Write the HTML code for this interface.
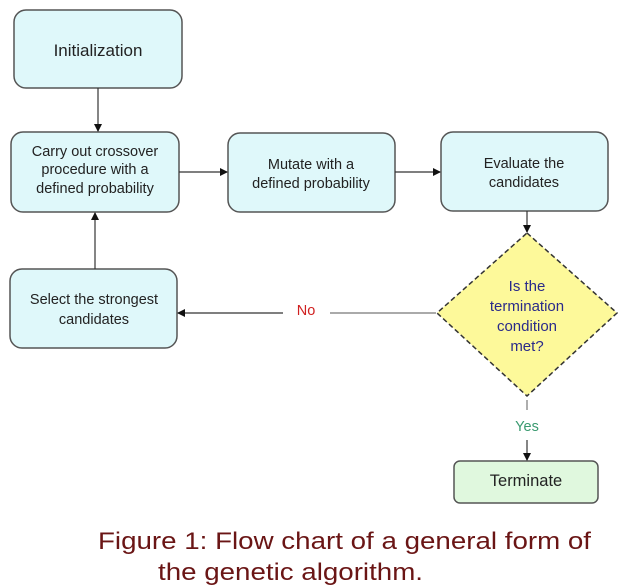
<!DOCTYPE html>
<html><head><style>html,body{margin:0;padding:0;background:#fff}svg{display:block}</style></head><body>
<svg width="628" height="586" viewBox="0 0 628 586" xmlns="http://www.w3.org/2000/svg" font-family="Liberation Sans, sans-serif">
<defs><marker id="a" markerWidth="8" markerHeight="8" refX="7" refY="4" orient="auto" markerUnits="userSpaceOnUse"><path d="M0,0 L8,4 L0,8z" fill="#111"/></marker></defs>
<g fill="#dff8fa" stroke="#555" stroke-width="1.5">
<rect x="14" y="10" width="168" height="78" rx="12"/>
<rect x="11" y="132" width="168" height="80" rx="12"/>
<rect x="228" y="133" width="167" height="79" rx="12"/>
<rect x="441" y="132" width="167" height="79" rx="12"/>
<rect x="10" y="269" width="167" height="79" rx="12"/>
</g>
<rect x="454" y="461" width="144" height="42" rx="6" fill="#e0f8de" stroke="#555" stroke-width="1.5"/>
<polygon points="527,233 617,313 527,396 437,313" fill="#fdf99a" stroke="#333" stroke-width="1.5" stroke-dasharray="5,3"/>
<g stroke="#333" stroke-width="1.2" fill="none">
<line x1="98" y1="88" x2="98" y2="131" marker-end="url(#a)"/>
<line x1="179" y1="172" x2="227" y2="172" marker-end="url(#a)"/>
<line x1="395" y1="172" x2="440" y2="172" marker-end="url(#a)"/>
<line x1="527" y1="211" x2="527" y2="232" marker-end="url(#a)"/>
<line x1="95" y1="269" x2="95" y2="213" marker-end="url(#a)"/>
<line x1="436" y1="313" x2="330" y2="313" stroke="#777"/>
<line x1="283" y1="313" x2="178" y2="313" marker-end="url(#a)"/>
<line x1="527" y1="400" x2="527" y2="410" stroke="#777"/>
<line x1="527" y1="440" x2="527" y2="460" marker-end="url(#a)"/>
</g>
<g font-size="14.5" fill="#222" text-anchor="middle">
<text x="98" y="56" font-size="17">Initialization</text>
<text x="95" y="156">Carry out crossover</text>
<text x="95" y="174">procedure with a</text>
<text x="95" y="193">defined probability</text>
<text x="311" y="169">Mutate with a</text>
<text x="311" y="188">defined probability</text>
<text x="524" y="168">Evaluate the</text>
<text x="524" y="187">candidates</text>
<text x="94" y="304">Select the strongest</text>
<text x="94" y="324">candidates</text>
<text x="526" y="486" font-size="16.5">Terminate</text>
</g>
<g font-size="15" fill="#2a2a8a" text-anchor="middle">
<text x="527" y="291">Is the</text>
<text x="527" y="311">termination</text>
<text x="527" y="331">condition</text>
<text x="527" y="351">met?</text>
</g>
<text x="306" y="315" font-size="14.5" fill="#d02020" text-anchor="middle">No</text>
<text x="527" y="431" font-size="14.5" fill="#3a9a70" text-anchor="middle">Yes</text>
<g font-size="24" fill="#6a1515">
<text x="98" y="549" textLength="493" lengthAdjust="spacingAndGlyphs">Figure 1: Flow chart of a general form of</text>
<text x="158" y="580" textLength="265" lengthAdjust="spacingAndGlyphs">the genetic algorithm.</text>
</g>
</svg>
</body></html>
